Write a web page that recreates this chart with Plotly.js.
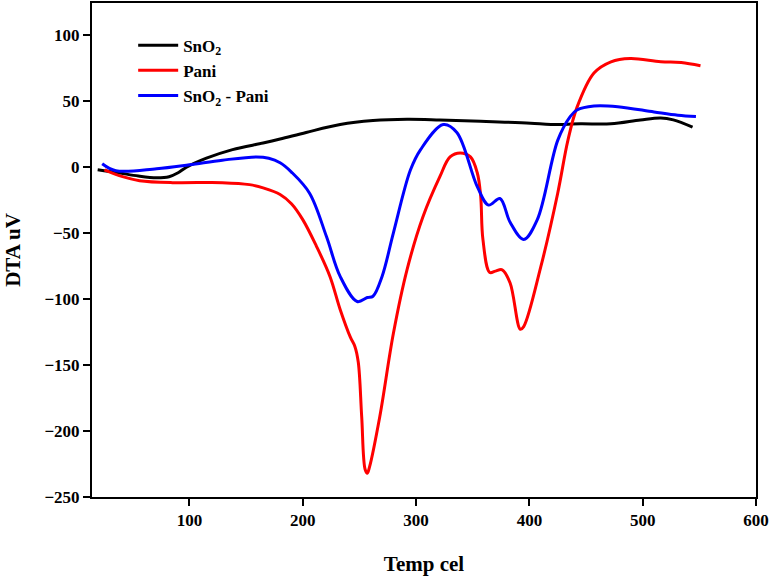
<!DOCTYPE html>
<html>
<head>
<meta charset="utf-8">
<script src="https://cdn.plot.ly/plotly-3.0.1.min.js"></script>
<style>html,body{margin:0;padding:0;background:#fff}#chart{width:774px;height:579px}</style>
</head>
<body>
<div id="chart"></div>
<script>
var seriesNames = ['SnO<sub>2</sub>', 'Pani', 'SnO<sub>2</sub> - Pani'];

var sno2Temp = [19,37,55,71,82,90,97,115,138,165,180,203,233,262,292,321,357,401,419,445,472,498,516,527,544];
var sno2DTA  = [-2.3,-4.5,-7,-8.3,-7.5,-4.5,-0.5,6.5,13,18,21,26,32,35,36,35.5,34.5,33,32,32.5,32.5,35.5,37,35.5,30];

var paniTemp = [25,41,56,85,129,153,165,180,190,200,212,224,233,242,246,249,252,255,257,259,268,280,292,306,321,330,339,348,354,357,359,365,370,376,383,392,395,410,425,434,442,457,472,489,516,534,551];
var paniDTA  = [-2.3,-7.5,-10.5,-12,-12,-13.5,-16,-21,-28,-40,-60,-83,-108,-129,-136,-148,-189,-229,-232,-227,-189,-126,-78,-38,-7.5,7.5,10.5,7.5,-4.5,-22,-55,-80,-79,-78,-88,-123,-121,-76,-20,20,45,71,79.5,82,79.5,79,76.5];

var compTemp = [23,35,71,100,129,159,170,180,190,206,221,233,248,257,262,270,280,295,304,324,336,354,364,374,383,395,407,425,436,442,457,478,510,531,547];
var compDTA  = [2.3,-3,-1.5,1.5,5,7.5,6.5,3,-4,-20,-53,-83,-102,-99,-98,-83,-50,-2.5,13,32,26,-15,-29,-24,-42,-55,-40,20,38,43,46,45.5,41.5,39,38];

var xTickVals = [100,200,300,400,500,600];
var yTickVals = [-250,-200,-150,-100,-50,0,50,100];

var FONT = '"Liberation Serif", "Times New Roman", serif';

function tr(x, y, name, color) {
  return {x: x, y: y, name: name, type: 'scatter', mode: 'lines',
    line: {color: color, width: 3, shape: 'spline', smoothing: 1}};
}

var data = [
  tr(sno2Temp, sno2DTA, seriesNames[0], '#000000'),
  tr(paniTemp, paniDTA, seriesNames[1], '#ff0000'),
  tr(compTemp, compDTA, seriesNames[2], '#0000ff')
];

function axisBase() {
  return {
    showgrid: false, zeroline: false, showline: true, linecolor: '#000', linewidth: 2,
    mirror: true, ticks: 'outside', ticklen: 7, tickwidth: 2, tickcolor: '#000',
    tickfont: {family: FONT, size: 17, color: '#000', weight: 'bold'}
  };
}

var xa = axisBase();
xa.range = [14, 600]; xa.tickvals = xTickVals;
xa.title = {text: 'Temp cel', font: {family: FONT, size: 21, color: '#000', weight: 'bold'}, standoff: 27};
var ya = axisBase();
ya.range = [-250, 124]; ya.tickvals = yTickVals;
ya.title = {text: 'DTA uV', font: {family: FONT, size: 21, color: '#000', weight: 'bold'}, standoff: 18};

var layout = {
  width: 774, height: 579,
  margin: {l: 92, r: 18, t: 3, b: 82},
  paper_bgcolor: '#fff', plot_bgcolor: '#fff',
  font: {family: FONT, color: '#000', weight: 'bold'},
  showlegend: true,
  legend: {x: 0.062, y: 0.95, xanchor: 'left', yanchor: 'top', bgcolor: 'rgba(0,0,0,0)', itemwidth: 40,
    font: {family: FONT, size: 17, color: '#000', weight: 'bold'}},
  xaxis: xa,
  yaxis: ya
};

Plotly.newPlot('chart', data, layout, {displayModeBar: false, staticPlot: true});
</script>
</body>
</html>
